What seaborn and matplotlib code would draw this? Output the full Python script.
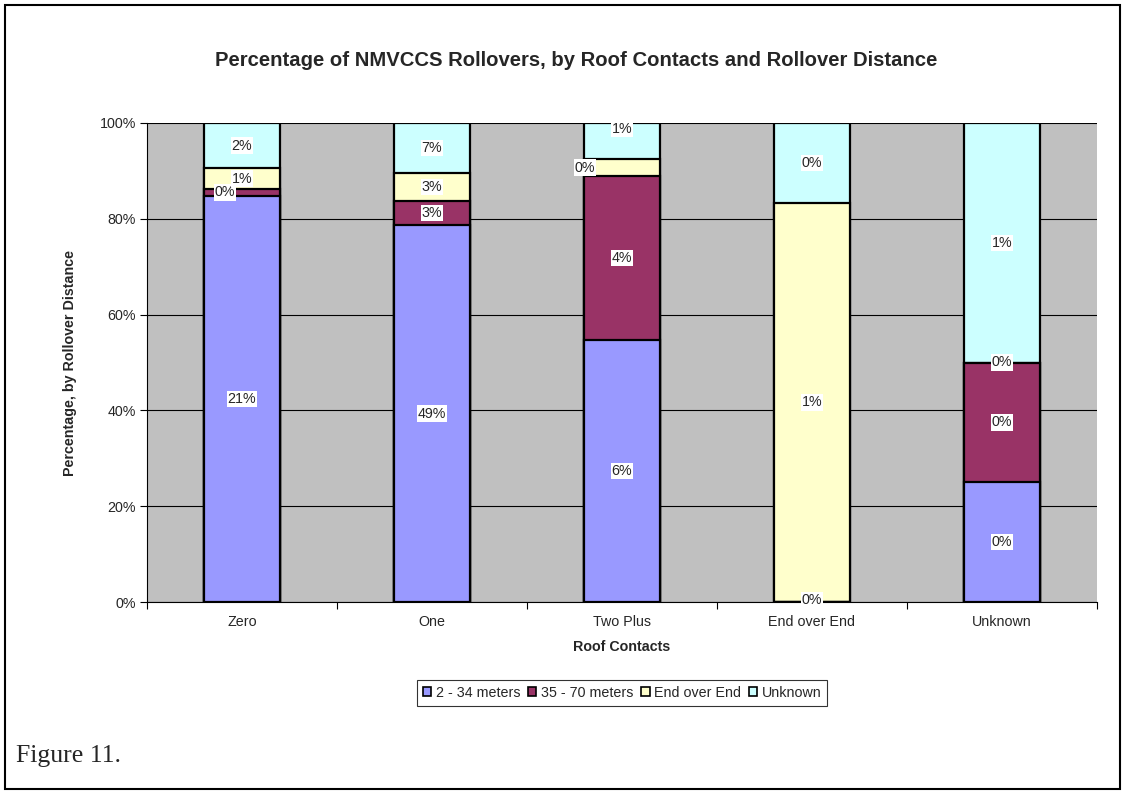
import numpy as np
import pandas as pd
import matplotlib.pyplot as plt
import seaborn as sns
from matplotlib.patches import Rectangle, Patch

# chart data (percent of each roof-contact group)
categories = ['Zero', 'One', 'Two Plus', 'End over End', 'Unknown']
series = ['2 - 34 meters', '35 - 70 meters', 'End over End', 'Unknown']
short_dist = [84.8, 78.7, 54.7, 0.0, 25.0]
long_dist = [1.4, 5.0, 34.2, 0.0, 25.0]
end_over_end = [4.4, 5.9, 3.6, 83.3, 0.0]
unknown = [9.4, 10.4, 7.5, 16.7, 50.0]

# data labels shown on the segments (as printed in the original)
labels_short = ['21%', '49%', '6%', '0%', '0%']
labels_long = ['0%', '3%', '4%', '0%', '0%']
labels_eoe = ['1%', '3%', '0%', '1%', '0%']
labels_unk = ['2%', '7%', '1%', '0%', '1%']

colors = ['#9999FF', '#993366', '#FFFFCC', '#CCFFFF']

df = pd.DataFrame({'Roof Contacts': categories,
                   series[0]: short_dist, series[1]: long_dist,
                   series[2]: end_over_end, series[3]: unknown})
vals = df[series].to_numpy()
cum = vals.cumsum(axis=1)

sns.set_style('white')
plt.rcParams['font.family'] = ['Liberation Sans', 'DejaVu Sans']
fs = 10.3

fig = plt.figure(figsize=(11.25, 7.94), dpi=100)
ax = fig.add_axes([147 / 1125, 1 - 602 / 794, 950 / 1125, 479 / 794])
ax.set_facecolor('#C0C0C0')

# stacked bars: draw cumulative heights from tallest to shortest
for i in range(len(series) - 1, -1, -1):
    sns.barplot(x=df['Roof Contacts'], y=cum[:, i], color=colors[i], width=0.4,
                edgecolor='black', linewidth=1.6, saturation=1, ax=ax, zorder=3)

all_labels = [labels_short, labels_long, labels_eoe, labels_unk]
# a few labels were nudged by the original to avoid overlaps (px)
nudge = {(0, 1): (-17, 0), (2, 2): (-37, 0), (2, 3): (0, 12), (3, 0): (0, 2)}
for j in range(len(categories)):
    for i in range(len(series)):
        if j == 3 and i == 1:
            continue  # hidden under the other 0% label
        mid = cum[j, i] - vals[j, i] / 2
        dx, dy = nudge.get((j, i), (0, 0))
        ax.annotate(all_labels[i][j], (j, mid), xytext=(dx * 0.72, dy * 0.72),
                    textcoords='offset points', ha='center', va='center',
                    fontsize=fs, zorder=5,
                    bbox=dict(facecolor='white', edgecolor='none', pad=0.8))

ax.set_xlim(-0.5, 4.5)
ax.set_ylim(0, 100)
ax.set_yticks(np.arange(0, 101, 20))
ax.set_yticklabels([f'{v}%' for v in range(0, 101, 20)], fontsize=fs)
ax.set_xticks(range(len(categories)))
ax.set_xticklabels(categories, fontsize=fs)
ax.set_xticks(np.arange(-0.5, 5, 1), minor=True)
ax.tick_params(axis='x', which='major', length=0, pad=9)
ax.tick_params(axis='x', which='minor', length=5, width=0.8, direction='out', color='black', bottom=True)
ax.tick_params(axis='y', length=5, width=0.8, direction='out', color='black', left=True, pad=3)
ax.grid(axis='y', color='black', linewidth=0.8, zorder=1)
ax.set_axisbelow(True)
for side in ['top', 'right']:
    ax.spines[side].set_visible(False)
for side in ['left', 'bottom']:
    ax.spines[side].set_color('black')
    ax.spines[side].set_linewidth(0.8)

ax.set_xlabel('Roof Contacts', fontsize=fs, fontweight='bold', labelpad=8)
ax.set_ylabel('Percentage, by Rollover Distance', fontsize=fs, fontweight='bold', labelpad=16)
fig.text(576 / 1125, 1 - 60 / 794,
         'Percentage of NMVCCS Rollovers, by Roof Contacts and Rollover Distance',
         ha='center', va='center', fontsize=14.6, fontweight='bold')

handles = [Patch(facecolor=c, edgecolor='black', linewidth=1.2) for c in colors]
leg = fig.legend(handles, series, loc='center', bbox_to_anchor=(622 / 1125, 1 - 693 / 794),
                 ncol=4, fontsize=fs, frameon=True, fancybox=False, handlelength=0.6,
                 handleheight=0.6, handletextpad=0.3, columnspacing=0.55, borderpad=0.4)
leg.get_frame().set_edgecolor('black')
leg.get_frame().set_linewidth(0.8)

# outer frame and caption
fig.patches.append(Rectangle((5 / 1125, 5 / 794), 1115 / 1125, 784 / 794, fill=False,
                             edgecolor='black', linewidth=1.5, transform=fig.transFigure))
fig.text(16 / 1125, 1 - 756 / 794, 'Figure 11.', ha='left', va='center',
         fontsize=18.5, family=['Liberation Serif', 'DejaVu Serif'])

fig.savefig('out.png', dpi=100, facecolor='white')
